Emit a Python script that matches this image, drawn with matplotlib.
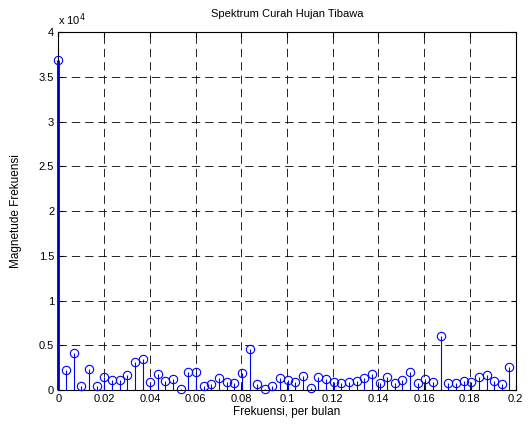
import numpy as np
import matplotlib
matplotlib.use("Agg")
import matplotlib.pyplot as plt
from matplotlib.ticker import FuncFormatter

# Data: magnitude spectrum (k = 0..59), frequency = k / N per month
N_SAMPLES = 299
magnitude = [36900, 2200, 4100, 450, 2300, 450, 1500, 1100, 1100, 1700,
             3100, 3500, 900, 1750, 1000, 1200, 100, 2000, 2000, 500,
             670, 1300, 900, 750, 1900, 4550, 670, 100, 500, 1300,
             1100, 850, 1600, 250, 1500, 1200, 900, 750, 900, 1050,
             1300, 1750, 750, 1400, 800, 1100, 2050, 750, 1200, 850,
             6000, 750, 750, 1000, 850, 1400, 1700, 1000, 650, 2600]
frequency = np.arange(len(magnitude)) / N_SAMPLES

x_ticks = [0, 0.02, 0.04, 0.06, 0.08, 0.1, 0.12, 0.14, 0.16, 0.18, 0.2]
x_tick_labels = ["0", "0.02", "0.04", "0.06", "0.08", "0.1", "0.12", "0.14", "0.16", "0.18", "0.2"]
y_ticks = [0, 5000, 10000, 15000, 20000, 25000, 30000, 35000, 40000]

title_text = "Spektrum Curah Hujan Tibawa"
x_label = "Frekuensi, per bulan"
y_label = "Magnetude Frekuensi"

plt.rcParams['font.family'] = ['Liberation Sans', 'DejaVu Sans']
plt.rcParams['lines.scale_dashes'] = False

fig = plt.figure(figsize=(5.31, 4.30), dpi=100)
ax = fig.add_axes([0.110, 0.093, 0.861, 0.8325])

blue = (0, 0, 1)
ml, sl, bl = ax.stem(frequency, magnitude, basefmt=" ")
sl.set_colors([(0, 0, 0.75)] + [blue] * (len(magnitude) - 1))
sl.set_linewidths([2.0] + [0.8] * (len(magnitude) - 1))
sl.set_zorder(3)
plt.setp(ml, color=blue, marker='o', markersize=6, markerfacecolor='none',
         markeredgewidth=0.8, zorder=4)
ml.set_clip_on(False)
sl.set_clip_on(False)

ax.set_xlim(0, 0.2)
ax.set_ylim(0, 40000)
ax.set_xticks(x_ticks)
ax.set_xticklabels(x_tick_labels)
ax.set_yticks(y_ticks)
ax.yaxis.set_major_formatter(FuncFormatter(lambda v, p: "%g" % (v / 1e4)))

ax.grid(True, color='black', linestyle=(0, (6, 3.6)), linewidth=0.6)
ax.set_axisbelow(True)
ax.tick_params(direction='in', length=3.5, width=0.8, top=True, right=True,
               labelsize=8, colors='black', pad=3)
for s in ax.spines.values():
    s.set_linewidth(0.8)
    s.set_color('black')

ax.set_title(title_text, fontsize=8, pad=11)
ax.set_xlabel(x_label, fontsize=8.5, labelpad=1)
ax.set_ylabel(y_label, fontsize=8.5, labelpad=12)
ax.text(0.0, 1.012, r"x 10$^4$", transform=ax.transAxes, fontsize=8,
        ha='left', va='bottom')

fig.savefig("out.png", dpi=100)
